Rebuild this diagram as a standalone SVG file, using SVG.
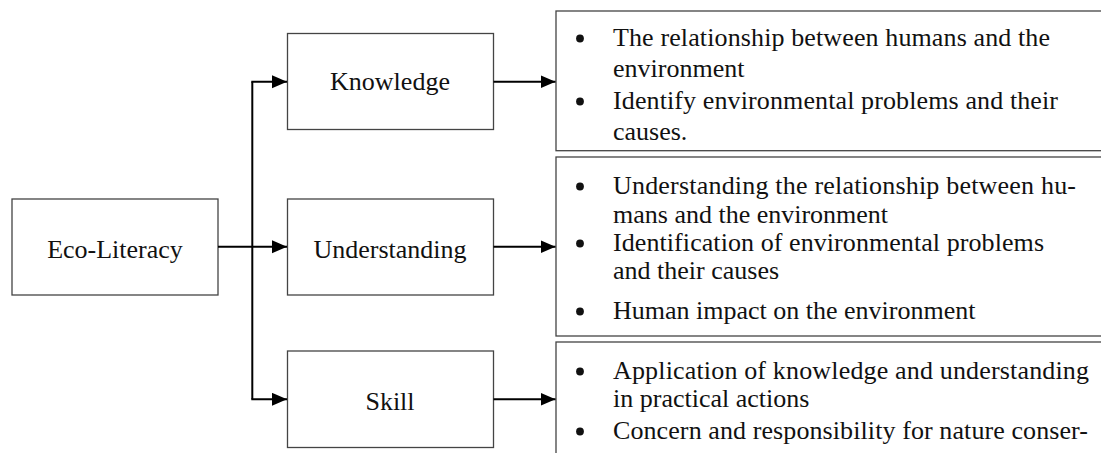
<svg xmlns="http://www.w3.org/2000/svg" width="1101" height="453" viewBox="0 0 1101 453">
  <style>
    .box { fill: #ffffff; stroke: #444444; stroke-width: 1.3; }
    .label { font-family: "Liberation Serif", "Times New Roman", serif; font-size: 26px; fill: #111111; text-anchor: middle; }
    .item { font-family: "Liberation Serif", "Times New Roman", serif; font-size: 26px; fill: #111111; }
    .dot { fill: #111111; }
    .wire { fill: none; stroke: #000000; stroke-width: 2; }
  </style>
  <defs>
    <marker id="head" markerUnits="userSpaceOnUse" markerWidth="15" markerHeight="14" refX="15" refY="6.5" orient="auto">
      <path d="M0,0 L15,6.5 L0,13 z" fill="#000000"/>
    </marker>
  </defs>
  <rect width="1101" height="453" fill="#ffffff"/>

  <!-- root node -->
  <g id="eco-literacy">
    <rect class="box" x="12" y="199" width="206" height="96"/>
    <text class="label" x="115" y="258">Eco-Literacy</text>
  </g>

  <!-- dimension nodes -->
  <g id="knowledge">
    <rect class="box" x="287.5" y="33.5" width="206" height="96"/>
    <text class="label" x="390" y="90">Knowledge</text>
  </g>
  <g id="understanding">
    <rect class="box" x="287.5" y="199" width="206" height="96"/>
    <text class="label" x="390" y="258">Understanding</text>
  </g>
  <g id="skill">
    <rect class="box" x="287.5" y="351" width="206" height="96.5"/>
    <text class="label" x="390" y="410">Skill</text>
  </g>

  <!-- indicator lists -->
  <g id="knowledge-indicators">
    <rect class="box" x="556" y="11" width="560" height="139.7"/>
    <circle class="dot" cx="580" cy="38.5" r="3.9"/>
    <text class="item" x="613" y="46" textLength="437" lengthAdjust="spacing">The relationship between humans and the</text>
    <text class="item" x="613" y="77">environment</text>
    <circle class="dot" cx="580" cy="101.5" r="3.9"/>
    <text class="item" x="613" y="109" textLength="445" lengthAdjust="spacing">Identify environmental problems and their</text>
    <text class="item" x="613" y="140">causes.</text>
  </g>
  <g id="understanding-indicators">
    <rect class="box" x="556" y="157" width="560" height="179"/>
    <circle class="dot" cx="580" cy="186.5" r="3.9"/>
    <text class="item" x="613" y="194" textLength="463" lengthAdjust="spacing">Understanding the relationship between hu-</text>
    <text class="item" x="613" y="223">mans and the environment</text>
    <circle class="dot" cx="580" cy="243.5" r="3.9"/>
    <text class="item" x="613" y="251" textLength="431" lengthAdjust="spacing">Identification of environmental problems</text>
    <text class="item" x="613" y="279">and their causes</text>
    <circle class="dot" cx="580" cy="311.5" r="3.9"/>
    <text class="item" x="613" y="319">Human impact on the environment</text>
  </g>
  <g id="skill-indicators">
    <rect class="box" x="556" y="342" width="560" height="130"/>
    <circle class="dot" cx="580" cy="371.5" r="3.9"/>
    <text class="item" x="613" y="379" textLength="476" lengthAdjust="spacing">Application of knowledge and understanding</text>
    <text class="item" x="613" y="407">in practical actions</text>
    <circle class="dot" cx="580" cy="431.5" r="3.9"/>
    <text class="item" x="613" y="439" textLength="475" lengthAdjust="spacing">Concern and responsibility for nature conser-</text>
  </g>

  <!-- connectors -->
  <g id="connectors">
    <path class="wire" d="M252.3,81.7 V399.3"/>
    <path class="wire" d="M251.3,81.7 H287" marker-end="url(#head)"/>
    <path class="wire" d="M218,246.7 H287" marker-end="url(#head)"/>
    <path class="wire" d="M251.3,399.3 H287" marker-end="url(#head)"/>
    <path class="wire" d="M493.5,81.7 H555.5" marker-end="url(#head)"/>
    <path class="wire" d="M493.5,246.7 H555.5" marker-end="url(#head)"/>
    <path class="wire" d="M493.5,399.3 H555.5" marker-end="url(#head)"/>
  </g>
</svg>
